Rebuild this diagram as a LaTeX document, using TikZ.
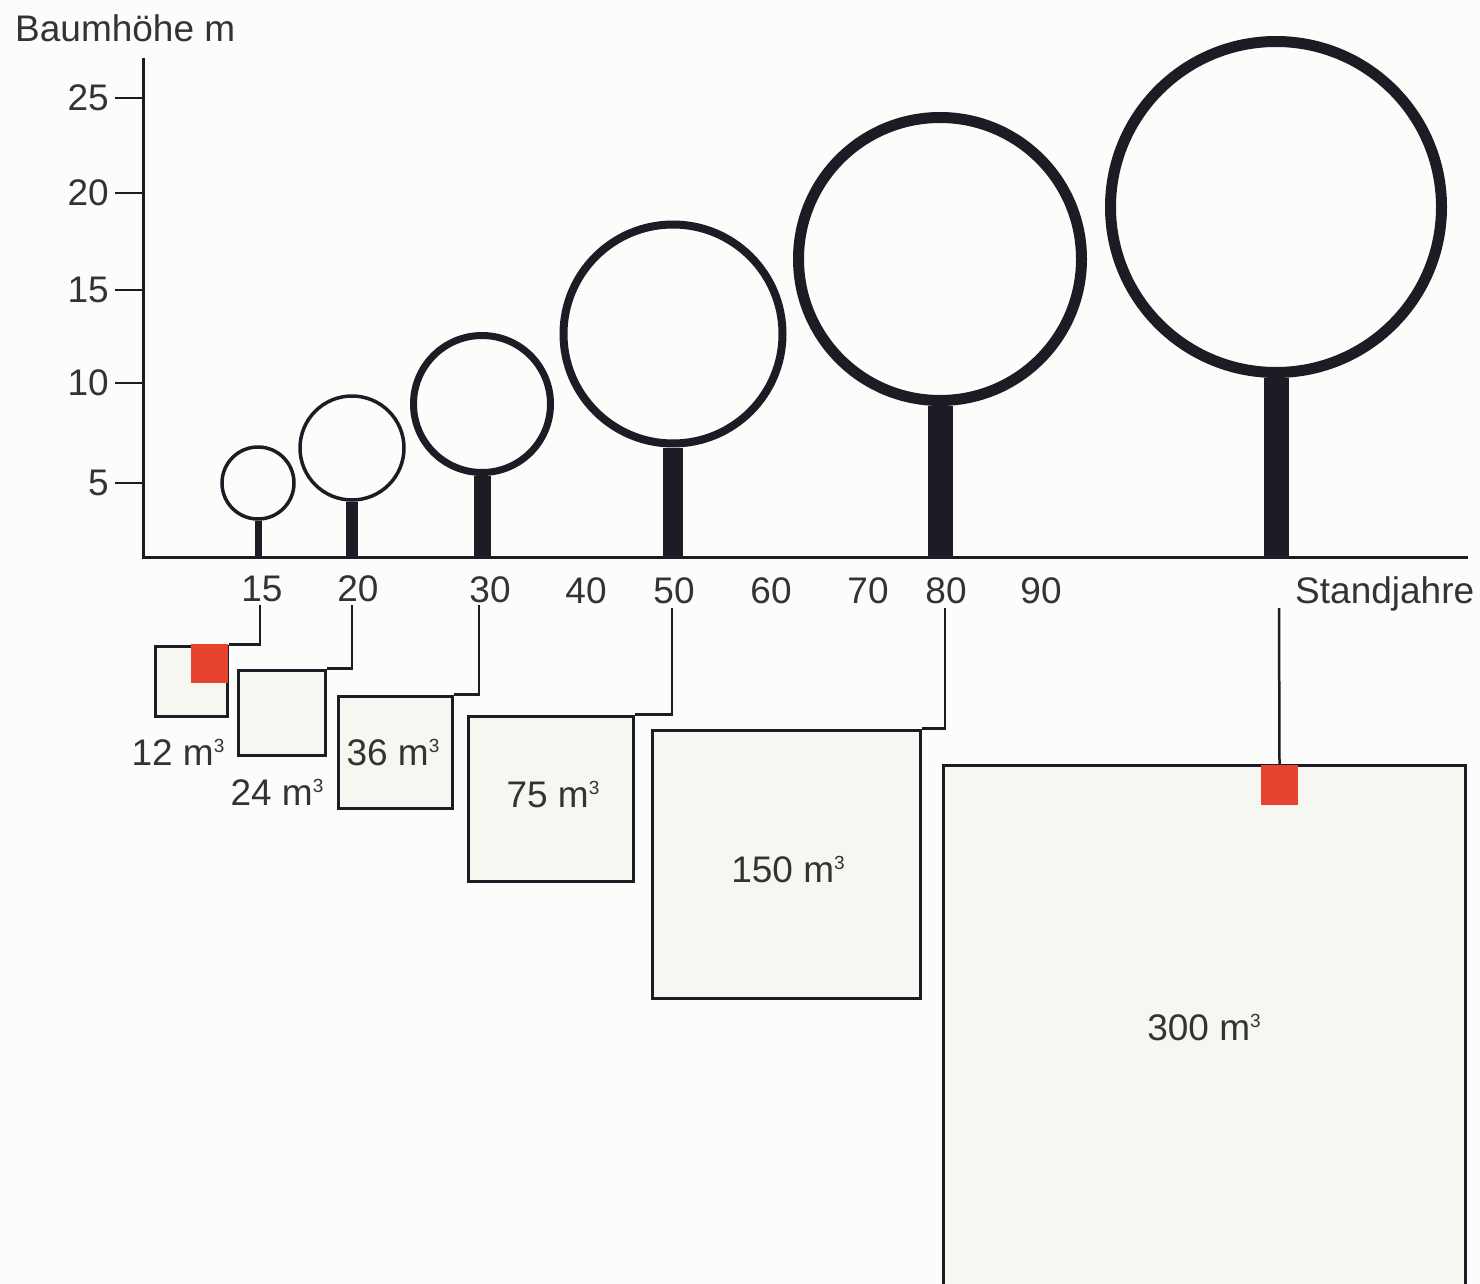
\documentclass[tikz,border=0pt]{standalone}
\usepackage{fontspec}
\setmainfont{Liberation Sans}
\usetikzlibrary{positioning}
\definecolor{paper}{HTML}{FCFCFB}
\definecolor{inkline}{HTML}{1C1C24}
\definecolor{boxfill}{HTML}{F7F7F2}
\definecolor{markred}{HTML}{E8432F}
\definecolor{labelgray}{HTML}{333333}
\newcommand{\cubicm}{m\raisebox{13pt}{\fontsize{19pt}{19pt}\selectfont 3}}
\tikzset{
    lbl/.style={font=\fontsize{37pt}{40pt}\selectfont, text=labelgray, inner sep=0pt},
    crown/.style={circle, draw=inkline, inner sep=0pt},
    trunk/.style={draw=inkline},
    vbox/.style={draw=inkline, line width=3pt, fill=boxfill, inner sep=0pt},
    link/.style={draw=inkline, line width=2.5pt},
    redmark/.style={fill=markred, inner sep=0pt, minimum width=37pt, minimum height=39pt}
}

\begin{document}
\begin{tikzpicture}[x=1pt,y=-1pt]
                \useasboundingbox (0,0) rectangle (1480,1284);
                \clip (0,0) rectangle (1480,1284);
                \fill[paper] (0,0) rectangle (1480,1284);

                % axes
                \coordinate (O) at (143,557);
                \coordinate (Ytop) at (143,58);
                \coordinate (Xend) at (1468,557);
                \draw[inkline, line width=3pt] (Ytop) -- (O) -- (Xend);

                \node[lbl, anchor=base west] (ytitle) at (15,42) {Baumhöhe m};
                \node[lbl, anchor=east] (y25) at (109,98) {25};
                \node[lbl, anchor=east] (y20) at (109,193) {20};
                \node[lbl, anchor=east] (y15) at (109,290) {15};
                \node[lbl, anchor=east] (y10) at (109,383) {10};
                \node[lbl, anchor=east] (y5) at (109,483) {5};
                \draw[inkline, line width=2.5pt] (115,98) -- (143,98);
                \draw[inkline, line width=2.5pt] (115,193) -- (143,193);
                \draw[inkline, line width=2.5pt] (115,290) -- (143,290);
                \draw[inkline, line width=2.5pt] (115,383) -- (143,383);
                \draw[inkline, line width=2.5pt] (115,483) -- (143,483);

                \node[lbl] (x15) at (262,589) {15};
                \node[lbl] (x20) at (358,589) {20};
                \node[lbl] (x30) at (490,590) {30};
                \node[lbl] (x40) at (586,591) {40};
                \node[lbl] (x50) at (674,591) {50};
                \node[lbl] (x60) at (771,591) {60};
                \node[lbl] (x70) at (868,591) {70};
                \node[lbl] (x80) at (946,591) {80};
                \node[lbl] (x90) at (1041,591) {90};
                \node[lbl, anchor=base west] (xtitle) at (1295,603) {Standjahre};

                % trees
                \node[crown, line width=3.5pt, minimum size=72pt] (tree15) at (258,483) {};
                \node[crown, line width=3.5pt, minimum size=104pt] (tree20) at (352,448) {};
                \node[crown, line width=7pt, minimum size=137pt] (tree30) at (482,404) {};
                \node[crown, line width=8pt, minimum size=219pt] (tree50) at (673,334) {};
                \node[crown, line width=11pt, minimum size=283pt] (tree80) at (940,259) {};
                \node[crown, line width=11pt, minimum size=331pt] (treelast) at (1276,207) {};
                \draw[trunk, line width=7pt] (tree15.south) -- (tree15.south |- O);
                \draw[trunk, line width=12pt] (tree20.south) -- (tree20.south |- O);
                \draw[trunk, line width=17pt] (tree30.south) -- (tree30.south |- O);
                \draw[trunk, line width=20pt] (tree50.south) -- (tree50.south |- O);
                \draw[trunk, line width=25pt] (tree80.south) -- (tree80.south |- O);
                \draw[trunk, line width=25pt] (treelast.south) -- (treelast.south |- O);

                % volume boxes
                \node[vbox, minimum width=72pt, minimum height=70pt] (b12) at (191,681) {};
                \node[vbox, minimum width=87pt, minimum height=85pt] (b24) at (281.5,712.5) {};
                \node[vbox, minimum width=114pt, minimum height=112pt] (b36) at (395,752) {};
                \node[vbox, minimum width=165pt, minimum height=165pt] (b75) at (550.5,798.5) {};
                \node[vbox, minimum width=268pt, minimum height=268pt] (b150) at (786,864) {};
                \node[vbox, minimum width=522pt, minimum height=522pt] (b300) at (1204,1026) {};

                \coordinate (c15) at (260,605);
                \coordinate (c20) at (352,605);
                \coordinate (c30) at (479,605);
                \coordinate (c50) at (672,608);
                \coordinate (c80) at (945,608);
                \coordinate (c300) at (1279,608);
                \draw[link] (c15) |- (b12.north east);
                \draw[link] (c20) |- (b24.north east);
                \draw[link] (c30) |- (b36.north east);
                \draw[link] (c50) |- (b75.north east);
                \draw[link] (c80) |- (b150.north east);

                \node[redmark] (r12) at (209.5,663) {};
                \node[redmark, minimum height=40pt] (r300) at (1279.5,785) {};
                \draw[link] (c300) -- (r300.north);

                \node[lbl, anchor=base] (l12) at (178,765) {12 \cubicm};
                \node[lbl, anchor=base] (l24) at (277,805) {24 \cubicm};
                \node[lbl, anchor=base] (l36) at (393,765) {36 \cubicm};
                \node[lbl, anchor=base] (l75) at (553,807) {75 \cubicm};
                \node[lbl, anchor=base] (l150) at (788,882) {150 \cubicm};
                \node[lbl, anchor=base] (l300) at (1204,1040) {300 \cubicm};
\end{tikzpicture}
\end{document}
